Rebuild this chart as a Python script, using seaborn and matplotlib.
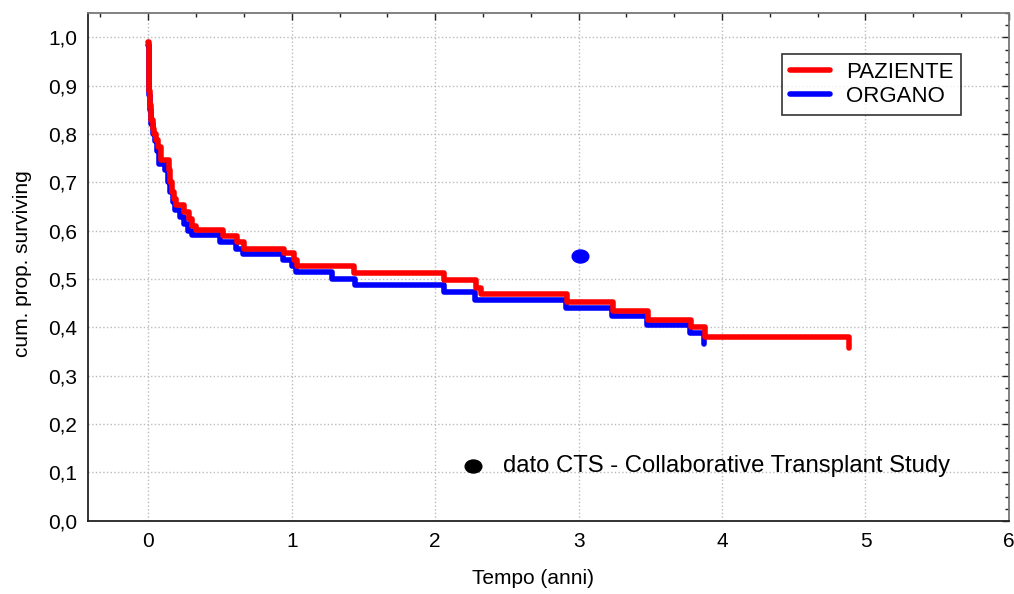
import numpy as np
import pandas as pd
import matplotlib
matplotlib.use("Agg")
import matplotlib.pyplot as plt
from matplotlib.ticker import MultipleLocator, FuncFormatter
from matplotlib.path import Path
import seaborn as sns

# curve Kaplan-Meier (tempo in anni, sopravvivenza cumulata)
paziente_t = [0.000, 0.002, 0.008, 0.015, 0.020, 0.030, 0.040, 0.055, 0.070, 0.090,
              0.142, 0.155, 0.168, 0.180, 0.190, 0.247, 0.282, 0.305, 0.330, 0.520,
              0.620, 0.670, 0.946, 1.015, 1.040, 1.435, 2.064, 2.285, 2.320, 2.921,
              3.240, 3.485, 3.783, 3.880, 4.887]
paziente_s = [0.990, 0.932, 0.890, 0.860, 0.830, 0.810, 0.800, 0.787, 0.773, 0.747,
              0.725, 0.700, 0.680, 0.665, 0.653, 0.639, 0.625, 0.610, 0.601, 0.589,
              0.577, 0.563, 0.553, 0.539, 0.527, 0.513, 0.498, 0.481, 0.469, 0.452,
              0.434, 0.415, 0.400, 0.381, 0.357]

organo_t = [0.000, 0.002, 0.008, 0.015, 0.020, 0.030, 0.045, 0.060, 0.072, 0.119,
            0.135, 0.150, 0.170, 0.185, 0.224, 0.250, 0.280, 0.305, 0.503, 0.615,
            0.660, 0.940, 1.000, 1.027, 1.284, 1.440, 2.060, 2.280, 2.914, 3.233,
            3.480, 3.775, 3.876]
organo_s = [0.985, 0.930, 0.880, 0.850, 0.820, 0.800, 0.785, 0.765, 0.738, 0.725,
            0.700, 0.680, 0.660, 0.643, 0.629, 0.615, 0.600, 0.591, 0.577, 0.563,
            0.552, 0.540, 0.527, 0.515, 0.501, 0.488, 0.474, 0.457, 0.440, 0.423,
            0.406, 0.388, 0.366]

# dati di riferimento
cts_t = [3.01]
cts_s = [0.547]
legenda_t = [2.265]
legenda_s = [0.114]

df_paz = pd.DataFrame({"t": paziente_t, "s": paziente_s})
df_org = pd.DataFrame({"t": organo_t, "s": organo_s})

sns.set_style("white")
plt.rcParams["font.family"] = ["Liberation Sans", "DejaVu Sans"]
plt.rcParams["font.size"] = 15
for k in ["text.color", "axes.labelcolor", "xtick.color", "ytick.color"]:
    plt.rcParams[k] = "black"

fig = plt.figure(figsize=(10.14, 5.94), dpi=100)
ax = fig.add_axes([0.0868, 0.1234, 0.9082, 0.8542])

sns.lineplot(data=df_org, x="t", y="s", ax=ax, color="#0000ff", lw=4.0,
             drawstyle="steps-post", sort=False, estimator=None, label="ORGANO")
sns.lineplot(data=df_paz, x="t", y="s", ax=ax, color="#ff0000", lw=4.0,
             drawstyle="steps-post", sort=False, estimator=None, label="PAZIENTE")

# punto ellittico
circ = Path.unit_circle()
ellisse = Path(circ.vertices * np.array([1.0, 0.78]), circ.codes)
ax.plot(cts_t, cts_s, ls="none", marker=ellisse, color="#0000ff", ms=12, zorder=5)
ax.plot(legenda_t, legenda_s, ls="none", marker=ellisse, color="black", ms=12, zorder=5)
ax.text(2.47, 0.114, "dato CTS - Collaborative Transplant Study",
        va="center", ha="left", fontsize=17.2)

ax.set_xlim(-0.42, 6.0)
ax.set_ylim(0, 1.05)
ax.xaxis.set_major_locator(MultipleLocator(1))
ax.xaxis.set_minor_locator(MultipleLocator(1 / 3))
ax.yaxis.set_major_locator(MultipleLocator(0.1))
ax.yaxis.set_minor_locator(MultipleLocator(0.025))
ax.yaxis.set_major_formatter(FuncFormatter(lambda v, p: f"{v:.1f}".replace(".", ",")))
ax.xaxis.set_major_formatter(FuncFormatter(lambda v, p: f"{v:.0f}"))

ax.tick_params(which="both", direction="in", top=True, right=True,
               labelsize=15, color="#222222", labelcolor="black")
ax.tick_params(which="major", length=5, width=1, pad=8)
ax.tick_params(which="minor", length=3, width=1)

ax.grid(True, which="major", linestyle=":", color="#bbbbbb", lw=1)
ax.set_axisbelow(True)

for side in ["top", "right"]:
    ax.spines[side].set_color("#777777")
for side in ["bottom", "left"]:
    ax.spines[side].set_color("#222222")
for sp in ax.spines.values():
    sp.set_linewidth(1.3)

ax.set_xlabel("Tempo (anni)", fontsize=15)
ax.xaxis.set_label_coords(0.483, -0.095)
ax.set_ylabel("cum. prop. surviving", fontsize=15)
ax.yaxis.set_label_coords(-0.061, 0.507)

h, l = ax.get_legend_handles_labels()
leg = ax.legend(h[::-1], l[::-1], loc="upper left", bbox_to_anchor=(0.754, 0.92),
                frameon=True, fancybox=False, edgecolor="black", fontsize=16,
                handlelength=1.8, borderpad=0.35, labelspacing=0.15,
                handletextpad=0.7, borderaxespad=0)
leg.get_frame().set_linewidth(1.2)

fig.savefig("out.png", dpi=100)
